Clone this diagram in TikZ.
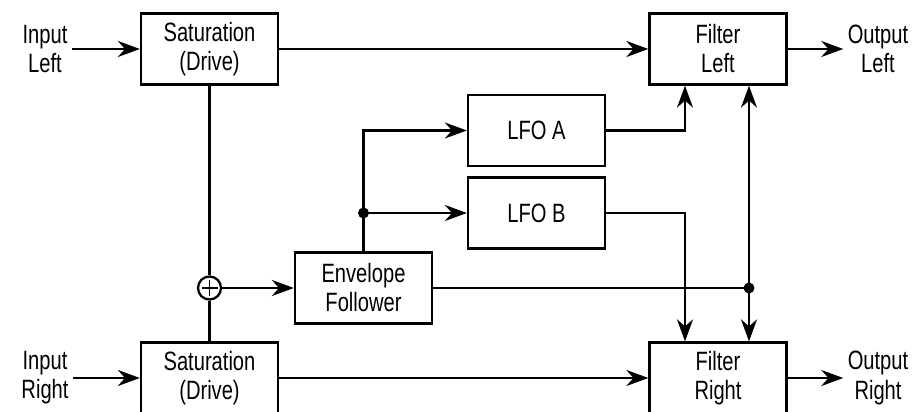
\documentclass[tikz,border=0pt]{standalone}
\usepackage{fontspec}
\setmainfont{Liberation Sans}[FakeStretch=0.76]
\usepackage{tikz}
\usetikzlibrary{arrows.meta,positioning}

\begin{document}
\begin{tikzpicture}[x=1pt,y=1pt,line width=2.3pt,
  font=\fontsize{26.5}{29}\selectfont,
  block/.style={draw,minimum width=137pt,minimum height=71pt,align=center,inner sep=0pt},
  label/.style={align=center},
  arr/.style={-{Stealth[length=22pt,width=16pt]}},
  jdot/.style={circle,fill,inner sep=0pt,minimum size=11pt}]
\useasboundingbox (0,0) rectangle (913,412);
\node[label] (inL) at (45,363) {Input\\Left};
\node[label] (inR) at (45,34) {Input\\Right};
\node[block] (satL) at (209.5,363) {Saturation\\(Drive)};
\node[block] (satR) at (209.5,34) {Saturation\\(Drive)};
\node[block] (filtL) at (718,363) {Filter\\Left};
\node[block] (filtR) at (718,34) {Filter\\Right};
\node[label] (outL) at (878,363) {Output\\Left};
\node[label] (outR) at (878,34) {Output\\Right};
\node[block] (lfoA) at (536.5,281.5) {LFO A};
\node[block] (lfoB) at (536.5,199) {LFO B};
\node[block] (env) at (363.5,124) {Envelope\\Follower};
\node[draw,circle,minimum size=23pt,inner sep=0pt] (sum) at (209.5,124) {};
\draw[line width=1.8pt] ([xshift=-8pt]sum.center) -- ([xshift=8pt]sum.center)
  ([yshift=-8pt]sum.center) -- ([yshift=8pt]sum.center);
\coordinate (split) at (363.5,199);
\coordinate (jn) at (749,124);
\node[jdot] at (split) {};
\node[jdot] at (jn) {};
\draw[arr] (inL) -- (satL);
\draw[arr] (inR) -- (satR);
\draw[arr] (satL) -- (filtL);
\draw[arr] (satR) -- (filtR);
\draw[arr] (filtL) -- (outL);
\draw[arr] (filtR) -- (outR);
\draw (satL.south) -- (sum.north);
\draw (sum.south) -- (satR.north);
\draw[arr] (sum) -- (env);
\draw[arr] (env.north) |- (lfoA.west);
\draw[arr] (split) -- (lfoB.west);
\draw[arr] (lfoA.east) -| ([xshift=-33pt]filtL.south);
\draw[arr] (lfoB.east) -| ([xshift=-33pt]filtR.north);
\draw (env.east) -- (jn);
\draw[arr] (jn) -- ([xshift=31pt]filtL.south);
\draw[arr] (jn) -- ([xshift=31pt]filtR.north);
\end{tikzpicture}
\end{document}
